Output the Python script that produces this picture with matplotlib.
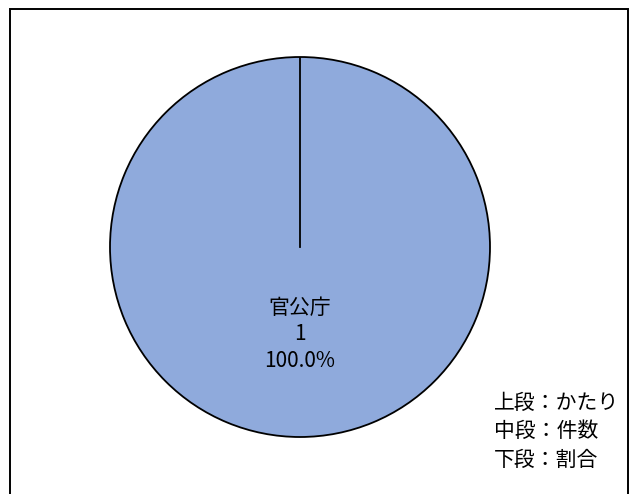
import matplotlib
matplotlib.use("Agg")
import matplotlib.pyplot as plt
from matplotlib.patches import Rectangle

plt.rcParams['font.family'] = ['Noto Sans CJK JP', 'DejaVu Sans']

categories = ["官公庁"]
counts = [1]
note_lines = ["上段：かたり", "中段：件数", "下段：割合"]

total = sum(counts)
labels = [f"{c}\n{n}\n{n / total * 100:.1f}%" for c, n in zip(categories, counts)]

fig = plt.figure(figsize=(6.30, 4.94), dpi=100)
fig.patch.set_facecolor('white')

# outer frame
fig.add_artist(Rectangle((10/630, -0.05), 618/630, 1.05 - 9/494, transform=fig.transFigure,
                         fill=False, edgecolor='black', linewidth=1.4))

ax = fig.add_axes([(300-190)/630, (494-247-190)/494, 380/630, 380/494])
wedges, texts = ax.pie(counts, labels=labels, startangle=90, counterclock=False,
                       colors=['#8FAADC'], labeldistance=0.46,
                       wedgeprops=dict(edgecolor='black', linewidth=1.3),
                       textprops=dict(ha='center', va='center', fontsize=15,
                                      linespacing=1.27, multialignment='center'))
# radial border line of the single full slice
ax.plot([0, 0], [0, 1], color='black', linewidth=1.3)
ax.set_xlim(-1, 1)
ax.set_ylim(-1, 1)
ax.set_aspect('equal')
ax.axis('off')

fig.text(494/630, 1 - 431/494, "\n".join(note_lines), ha='left', va='center',
         fontsize=15, linespacing=1.38)

fig.savefig("out.png", dpi=100)
